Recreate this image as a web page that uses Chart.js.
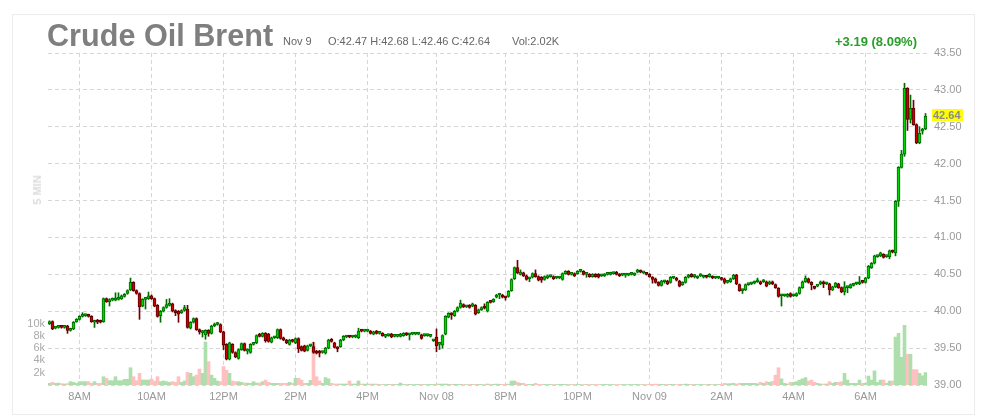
<!DOCTYPE html>
<html>
<head>
<meta charset="utf-8">
<script src="https://cdn.jsdelivr.net/npm/chart.js@4.4.1/dist/chart.umd.min.js"></script>
<style>
  html, body { margin: 0; padding: 0; background: #fff; }
  #wrap { position: relative; width: 981px; height: 417px; font-family: "Liberation Sans", Arial, sans-serif; overflow: hidden; }
  #frame { position: absolute; left: 12px; top: 14px; width: 961px; height: 399px; border: 1px solid #ececec; }
  canvas { position: absolute; left: 0; top: 0; }
  .t { position: absolute; white-space: nowrap; }
  #title { left: 47px; top: 20px; font-size: 30.6px; line-height: 30px; font-weight: bold; color: #7f7f7f; }
  .info { top: 36px; font-size: 11px; line-height: 11px; color: #666; }
  #chg { right: 64px; top: 35px; font-size: 13px; line-height: 13px; font-weight: bold; color: #2a9d2a; }
  #interval { left: 37px; top: 190px; font-size: 11px; font-weight: bold; color: #dcdcdc; transform: translate(-50%, -50%) rotate(-90deg); }
</style>
</head>
<body>
<div id="wrap">
  <div id="frame"></div>
  <canvas id="c" width="981" height="417"></canvas>
  <div class="t" id="title">Crude Oil Brent</div>
  <div class="t info" id="day" style="left:283px">Nov 9</div>
  <div class="t info" id="ohlc" style="left:328px"></div>
  <div class="t info" id="vol" style="left:512px"></div>
  <div class="t" id="chg">+3.19 (8.09%)</div>
  <div class="t" id="interval">5 MIN</div>
</div>
<script>
// 5-minute candles, Nov 7 ~7:10AM to Nov 9 ~7:35AM
const open = [
  39.83,39.86,39.77,39.78,39.79,39.78,39.80,39.74,39.76,39.86,
  39.89,39.93,39.94,39.95,39.93,39.85,39.87,39.87,39.86,40.17,
  40.13,40.15,40.15,40.16,40.17,40.20,40.24,40.29,40.39,40.28,
  40.24,40.07,40.16,40.17,40.21,40.17,40.08,39.94,40.00,40.05,
  40.08,40.10,40.00,40.00,39.98,40.01,40.03,39.77,39.85,39.90,
  39.75,39.71,39.68,39.74,39.70,39.80,39.82,39.82,39.72,39.55,
  39.35,39.55,39.44,39.36,39.48,39.56,39.46,39.44,39.55,39.57,
  39.68,39.66,39.70,39.69,39.58,39.64,39.64,39.75,39.64,39.61,
  39.55,39.61,39.57,39.63,39.52,39.53,39.47,39.53,39.52,39.46,
  39.46,39.44,39.43,39.50,39.62,39.57,39.51,39.52,39.61,39.65,
  39.66,39.65,39.65,39.64,39.74,39.73,39.73,39.73,39.69,39.73,
  39.70,39.70,39.66,39.67,39.69,39.66,39.66,39.66,39.67,39.70,
  39.68,39.69,39.69,39.69,39.68,39.67,39.67,39.66,39.60,39.65,
  39.55,39.54,39.69,39.92,39.97,39.94,40.00,40.05,40.09,40.06,
  40.08,40.07,40.08,39.98,40.02,40.07,40.00,40.13,40.13,40.19,
  40.22,40.22,40.19,40.20,40.28,40.44,40.59,40.50,40.52,40.48,
  40.44,40.46,40.51,40.47,40.46,40.43,40.45,40.47,40.47,40.45,
  40.45,40.43,40.51,40.54,40.50,40.51,40.51,40.54,40.54,40.50,
  40.50,40.47,40.50,40.50,40.48,40.48,40.50,40.50,40.51,40.51,
  40.50,40.49,40.49,40.49,40.50,40.49,40.53,40.55,40.52,40.51,
  40.50,40.46,40.44,40.39,40.35,40.40,40.41,40.39,40.45,40.45,
  40.41,40.36,40.39,40.46,40.50,40.47,40.45,40.48,40.46,40.47,
  40.47,40.47,40.45,40.45,40.45,40.44,40.39,40.40,40.44,40.49,
  40.36,40.28,40.29,40.36,40.37,40.38,40.40,40.40,40.40,40.40,
  40.37,40.40,40.36,40.31,40.21,40.21,40.20,40.24,40.21,40.21,
  40.24,40.32,40.40,40.44,40.39,40.33,40.34,40.37,40.40,40.37,
  40.37,40.29,40.33,40.37,40.32,40.26,40.32,40.32,40.35,40.37,
  40.37,40.41,40.39,40.45,40.59,40.65,40.74,40.75,40.77,40.74,
  40.74,40.82,40.79,41.49,41.95,42.13,43.02,42.60,42.75,42.53,
  42.28,42.44,42.47
];
const high = [
  39.87,39.87,39.79,39.80,39.80,39.80,39.81,39.77,39.86,39.90,
  39.94,39.98,39.96,39.96,39.94,39.88,39.89,39.88,40.18,40.18,
  40.17,40.18,40.25,40.25,40.22,40.24,40.29,40.45,40.40,40.29,
  40.25,40.17,40.18,40.26,40.22,40.18,40.09,40.01,40.06,40.16,
  40.17,40.11,40.02,40.01,40.02,40.08,40.08,39.86,39.91,39.91,
  39.76,39.74,39.75,39.75,39.81,39.84,39.85,39.83,39.73,39.56,
  39.58,39.56,39.45,39.49,39.57,39.57,39.49,39.56,39.57,39.68,
  39.70,39.71,39.71,39.70,39.65,39.66,39.76,39.76,39.65,39.62,
  39.62,39.62,39.64,39.64,39.53,39.54,39.54,39.55,39.58,39.47,
  39.47,39.46,39.51,39.62,39.63,39.58,39.52,39.62,39.67,39.67,
  39.67,39.67,39.68,39.77,39.75,39.75,39.75,39.74,39.73,39.74,
  39.72,39.71,39.68,39.69,39.70,39.68,39.68,39.70,39.71,39.71,
  39.70,39.71,39.71,39.71,39.69,39.69,39.69,39.68,39.62,39.76,
  39.58,39.68,39.94,39.98,39.98,40.01,40.06,40.15,40.10,40.08,
  40.09,40.11,40.09,40.03,40.06,40.10,40.13,40.14,40.17,40.23,
  40.24,40.23,40.20,40.28,40.44,40.60,40.69,40.56,40.53,40.49,
  40.46,40.52,40.56,40.48,40.47,40.48,40.49,40.49,40.48,40.47,
  40.47,40.52,40.55,40.55,40.52,40.52,40.55,40.56,40.55,40.52,
  40.51,40.51,40.51,40.51,40.50,40.51,40.52,40.53,40.53,40.54,
  40.51,40.51,40.51,40.51,40.52,40.52,40.57,40.56,40.54,40.52,
  40.51,40.47,40.45,40.40,40.42,40.42,40.42,40.47,40.47,40.46,
  40.42,40.40,40.47,40.50,40.51,40.50,40.48,40.51,40.49,40.48,
  40.51,40.48,40.47,40.47,40.46,40.45,40.41,40.45,40.50,40.50,
  40.37,40.30,40.37,40.38,40.39,40.41,40.45,40.41,40.43,40.41,
  40.41,40.41,40.37,40.32,40.23,40.23,40.24,40.25,40.23,40.25,
  40.33,40.41,40.48,40.45,40.40,40.34,40.36,40.41,40.41,40.39,
  40.38,40.34,40.39,40.38,40.33,40.40,40.34,40.37,40.38,40.39,
  40.47,40.42,40.46,40.62,40.66,40.76,40.76,40.80,40.78,40.76,
  40.83,40.83,41.50,41.96,42.18,43.09,43.03,42.93,42.86,42.54,
  42.50,42.48,42.68
];
const low = [
  39.82,39.75,39.76,39.77,39.77,39.77,39.70,39.73,39.75,39.85,
  39.88,39.92,39.93,39.92,39.85,39.78,39.83,39.84,39.85,40.12,
  40.07,40.14,40.14,40.15,40.16,40.19,40.23,40.28,40.27,40.23,
  39.89,40.06,40.03,40.16,40.16,40.06,39.92,39.85,39.99,40.04,
  40.07,39.99,39.94,39.85,39.97,40.00,39.77,39.76,39.84,39.74,
  39.69,39.65,39.62,39.66,39.69,39.79,39.81,39.71,39.48,39.34,
  39.34,39.43,39.37,39.35,39.47,39.46,39.42,39.43,39.54,39.56,
  39.65,39.65,39.58,39.58,39.57,39.63,39.63,39.62,39.60,39.56,
  39.54,39.58,39.56,39.44,39.46,39.45,39.46,39.52,39.43,39.42,
  39.38,39.43,39.42,39.49,39.58,39.50,39.45,39.51,39.60,39.64,
  39.64,39.64,39.64,39.63,39.72,39.72,39.72,39.69,39.68,39.69,
  39.69,39.66,39.64,39.66,39.64,39.65,39.65,39.65,39.66,39.67,
  39.61,39.68,39.68,39.68,39.62,39.66,39.66,39.65,39.59,39.45,
  39.48,39.50,39.68,39.91,39.89,39.93,39.99,40.04,40.05,40.05,
  40.04,40.06,39.95,39.97,40.01,40.03,39.99,40.11,40.12,40.18,
  40.17,40.18,40.15,40.19,40.27,40.43,40.51,40.49,40.47,40.42,
  40.40,40.45,40.46,40.41,40.39,40.42,40.44,40.46,40.43,40.44,
  40.44,40.42,40.50,40.49,40.49,40.47,40.50,40.53,40.49,40.46,
  40.46,40.46,40.46,40.45,40.47,40.47,40.49,40.49,40.50,40.49,
  40.47,40.48,40.46,40.48,40.49,40.48,40.52,40.52,40.51,40.49,
  40.46,40.38,40.38,40.34,40.34,40.38,40.36,40.38,40.44,40.41,
  40.33,40.35,40.38,40.45,40.46,40.45,40.44,40.47,40.45,40.45,
  40.46,40.44,40.44,40.44,40.42,40.37,40.38,40.39,40.43,40.36,
  40.27,40.24,40.28,40.35,40.36,40.37,40.39,40.36,40.39,40.33,
  40.36,40.36,40.31,40.19,40.07,40.20,40.19,40.19,40.20,40.20,
  40.23,40.31,40.39,40.38,40.29,40.30,40.33,40.36,40.32,40.36,
  40.22,40.28,40.32,40.31,40.25,40.22,40.25,40.31,40.34,40.36,
  40.36,40.38,40.38,40.44,40.58,40.64,40.73,40.74,40.72,40.73,
  40.71,40.79,40.75,41.42,41.94,42.10,42.45,42.55,42.52,42.27,
  42.27,42.40,42.46
];
const close = [
  39.86,39.76,39.78,39.79,39.78,39.79,39.74,39.76,39.85,39.89,
  39.93,39.95,39.95,39.93,39.86,39.87,39.85,39.85,40.17,40.13,
  40.15,40.16,40.17,40.18,40.21,40.23,40.28,40.39,40.28,40.24,
  40.06,40.16,40.17,40.21,40.17,40.07,39.93,40.00,40.05,40.09,
  40.10,40.00,39.98,39.96,40.01,40.05,39.78,39.85,39.90,39.75,
  39.72,39.73,39.74,39.70,39.80,39.82,39.83,39.72,39.54,39.35,
  39.57,39.44,39.38,39.48,39.56,39.47,39.48,39.55,39.56,39.67,
  39.66,39.70,39.60,39.59,39.64,39.65,39.75,39.63,39.61,39.57,
  39.61,39.59,39.63,39.49,39.47,39.46,39.53,39.54,39.44,39.43,
  39.43,39.45,39.50,39.61,39.59,39.51,39.49,39.61,39.66,39.66,
  39.65,39.66,39.66,39.73,39.73,39.74,39.74,39.70,39.72,39.70,
  39.71,39.67,39.67,39.68,39.65,39.67,39.67,39.69,39.70,39.68,
  39.69,39.70,39.70,39.70,39.63,39.68,39.68,39.67,39.61,39.53,
  39.56,39.67,39.93,39.97,39.95,40.00,40.05,40.11,40.06,40.07,
  40.05,40.10,39.96,40.02,40.05,40.04,40.12,40.12,40.16,40.22,
  40.23,40.19,40.18,40.27,40.43,40.59,40.52,40.53,40.48,40.43,
  40.45,40.51,40.47,40.42,40.42,40.47,40.48,40.48,40.44,40.46,
  40.46,40.51,40.54,40.50,40.51,40.48,40.54,40.55,40.50,40.51,
  40.47,40.50,40.47,40.46,40.49,40.50,40.51,40.52,40.52,40.50,
  40.48,40.50,40.50,40.50,40.51,40.51,40.55,40.53,40.53,40.50,
  40.47,40.43,40.39,40.35,40.41,40.41,40.37,40.46,40.46,40.42,
  40.34,40.39,40.46,40.49,40.47,40.48,40.47,40.49,40.48,40.46,
  40.50,40.45,40.46,40.46,40.43,40.39,40.40,40.44,40.49,40.37,
  40.28,40.29,40.36,40.37,40.38,40.40,40.41,40.37,40.41,40.34,
  40.40,40.37,40.32,40.20,40.22,40.22,40.23,40.20,40.22,40.24,
  40.32,40.40,40.45,40.39,40.36,40.31,40.35,40.40,40.37,40.38,
  40.29,40.33,40.38,40.32,40.26,40.33,40.33,40.36,40.37,40.38,
  40.40,40.39,40.45,40.61,40.65,40.75,40.75,40.79,40.73,40.75,
  40.82,40.80,41.49,41.95,42.13,43.02,42.60,42.75,42.53,42.28,
  42.41,42.47,42.64
];
// volume in thousands
const volume = [
  0.27,0.43,0.27,0.32,0.22,0.16,0.22,0.54,0.43,0.27,
  0.54,0.54,0.54,0.54,0.27,0.54,0.27,0.27,1.35,1.08,
  0.70,0.70,1.35,0.70,0.70,0.92,0.92,2.81,1.35,0.70,
  1.89,0.81,0.81,0.81,0.97,0.65,1.35,0.54,0.65,0.54,
  0.43,0.54,0.43,1.35,0.43,0.65,2.05,1.90,1.35,1.60,
  2.60,1.90,7.00,3.80,1.60,1.10,0.65,0.54,3.00,2.40,
  1.90,0.65,0.54,0.54,0.43,0.32,0.32,0.27,0.54,0.32,
  0.32,0.54,0.80,0.43,0.27,0.27,0.27,0.27,0.27,0.27,
  0.43,0.27,1.10,1.10,0.80,0.27,0.27,0.75,6.90,1.35,
  0.65,0.27,1.20,1.00,0.27,0.16,0.16,0.16,0.16,0.16,
  0.65,0.16,0.16,0.65,0.16,0.15,0.15,0.15,0.15,0.15,
  0.08,0.10,0.08,0.10,0.12,0.08,0.10,0.32,0.10,0.08,
  0.10,0.08,0.08,0.10,0.12,0.08,0.08,0.10,0.10,0.16,
  0.15,0.15,0.16,0.12,0.10,0.12,0.10,0.12,0.08,0.08,
  0.10,0.08,0.12,0.10,0.10,0.08,0.16,0.10,0.12,0.15,
  0.12,0.10,0.12,0.15,0.65,0.65,0.43,0.27,0.27,0.10,
  0.10,0.10,0.27,0.10,0.08,0.10,0.08,0.10,0.08,0.08,
  0.10,0.12,0.10,0.08,0.08,0.08,0.10,0.08,0.08,0.08,
  0.08,0.08,0.08,0.08,0.08,0.10,0.08,0.08,0.08,0.08,
  0.08,0.08,0.08,0.08,0.08,0.08,0.10,0.08,0.08,0.08,
  0.10,0.12,0.15,0.12,0.12,0.08,0.10,0.12,0.08,0.08,
  0.12,0.08,0.15,0.12,0.10,0.08,0.08,0.08,0.08,0.08,
  0.10,0.08,0.08,0.08,0.10,0.27,0.20,0.22,0.27,0.16,
  0.27,0.27,0.27,0.27,0.27,0.27,0.20,0.43,0.27,0.54,
  0.43,0.60,1.60,2.80,1.00,0.27,0.16,0.43,0.43,0.54,
  0.80,1.00,1.20,0.65,0.80,0.43,0.27,0.16,0.16,0.16,
  0.54,0.27,0.43,0.43,0.54,1.90,0.80,0.27,0.27,0.27,
  0.80,0.27,0.27,1.45,0.80,2.30,0.43,0.80,0.80,0.27,
  0.65,0.65,7.80,8.40,4.50,9.70,5.00,5.00,2.50,2.50,
  1.90,1.50,2.02
];
const tickIdx = [10, 34, 58, 82, 106, 129, 152, 176, 200, 224, 248, 272];
const tickText = ['8AM', '10AM', '12PM', '2PM', '4PM', 'Nov 08', '8PM', '10PM', 'Nov 09', '2AM', '4AM', '6AM'];
const volTicks = [2, 4, 6, 8, 10];

const last = close.length - 1;
document.getElementById('ohlc').textContent =
  'O:' + open[last].toFixed(2) + ' H:' + high[last].toFixed(2) + ' L:' + low[last].toFixed(2) + ' C:' + close[last].toFixed(2);
document.getElementById('vol').textContent = 'Vol:' + volume[last].toFixed(2) + 'K';

const labels = open.map((_, i) => {
  const k = tickIdx.indexOf(i);
  return k >= 0 ? tickText[k] : '';
});
const isUp = open.map((o, i) => close[i] >= o);

const FONT = '"Liberation Sans", Arial, sans-serif';
const gridColor = '#d6d6d6';

const lastPrice = {
  id: 'lastPrice',
  afterDraw(chart) {
    const { ctx, scales: { y } } = chart;
    const v = close[last];
    const py = Math.round(y.getPixelForValue(v));
    ctx.save();
    ctx.fillStyle = '#ffff00';
    ctx.fillRect(y.left + 5, py - 7, 31, 12);
    ctx.fillStyle = '#8a8a8a';
    ctx.font = 'bold 11px ' + FONT;
    ctx.textBaseline = 'middle';
    ctx.fillText(v.toFixed(2), y.left + 6, py);
    ctx.restore();
  }
};

new Chart(document.getElementById('c'), {
  type: 'bar',
  data: {
    labels,
    datasets: [
      {
        label: 'body',
        data: open.map((o, i) => [o, close[i]]),
        backgroundColor: isUp.map(u => u ? '#00d400' : '#cc0000'),
        borderColor: isUp.map(u => u ? '#006b00' : '#5e0000'),
        borderWidth: 1,
        borderSkipped: false,
        barThickness: 3,
        minBarLength: 2,
        grouped: false,
        yAxisID: 'y'
      },
      {
        label: 'wick',
        data: low.map((l, i) => [l, high[i]]),
        backgroundColor: isUp.map(u => u ? '#006b00' : '#6e0000'),
        barThickness: 1,
        grouped: false,
        yAxisID: 'y'
      },
      {
        label: 'volume',
        data: volume,
        backgroundColor: isUp.map(u => u ? '#acdfac' : '#ffc0c0'),
        barThickness: 3,
        grouped: false,
        yAxisID: 'yv'
      }
    ]
  },
  options: {
    responsive: false,
    animation: false,
    layout: { padding: { top: 53, left: 0, right: 0, bottom: 0 } },
    plugins: { legend: { display: false }, tooltip: { enabled: false } },
    scales: {
      x: {
        offset: true,
        grid: { offset: false, color: gridColor, drawTicks: false },
        border: { display: false, dash: [4, 3] },
        ticks: { autoSkip: false, maxRotation: 0, color: '#999', padding: 5, font: { family: FONT, size: 11 } },
        afterBuildTicks: s => { s.ticks = tickIdx.map(v => ({ value: v })); },
        afterFit: s => { s.height = 32; }
      },
      y: {
        position: 'right',
        min: 39,
        max: 43.5,
        grid: { color: gridColor, drawTicks: false },
        border: { display: false, dash: [4, 3] },
        ticks: { stepSize: 0.5, color: '#999', padding: 7, font: { family: FONT, size: 11 }, callback: v => v.toFixed(2) },
        afterFit: s => { s.width = 54; }
      },
      yv: {
        position: 'left',
        min: 0,
        max: 54,
        grid: { display: false, drawTicks: false },
        border: { display: false },
        ticks: { color: '#aaa', padding: 3, font: { family: FONT, size: 11 }, callback: v => v + 'k' },
        afterBuildTicks: s => { s.ticks = volTicks.map(v => ({ value: v })); },
        afterFit: s => { s.width = 48; }
      }
    }
  },
  plugins: [lastPrice]
});
</script>
</body>
</html>
